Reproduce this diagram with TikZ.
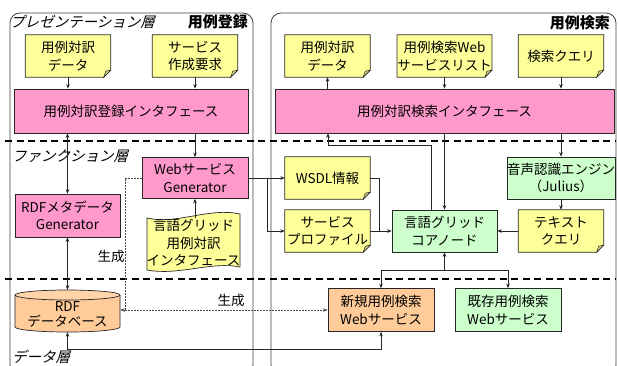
\documentclass[tikz,border=0pt]{standalone}
\usepackage{fontspec}
\setmainfont{Noto Sans CJK JP}
\newfontfamily\slantfont[FakeSlant=0.25]{Noto Sans CJK JP}
\usetikzlibrary{arrows.meta,backgrounds,calc}
\definecolor{pinkc}{HTML}{FF99CC}
\definecolor{yelc}{HTML}{FFFF99}
\definecolor{grnc}{HTML}{CCFFCC}
\definecolor{orgc}{HTML}{FFCC99}
\definecolor{foldc}{HTML}{CCCC7A}
\definecolor{linec}{HTML}{262626}
\newcommand\notebox[1]{%
  \filldraw[fill=yelc,draw=linec,line width=0.7pt] (#1.north west) -- (#1.north east) -- ([yshift=7pt]#1.south east) -- ([xshift=-7pt]#1.south east) -- (#1.south west) -- cycle;
  \filldraw[fill=foldc,draw=linec,line width=0.5pt] ([xshift=-7pt]#1.south east) -- ([yshift=7pt]#1.south east) -- ([xshift=-5pt,yshift=6pt]#1.south east) -- cycle;}
\begin{document}
\begin{tikzpicture}[x=1pt,y=-1pt,
  >={Stealth[length=4.5pt,width=3.6pt]},
  txt/.style={font=\fontsize{13.5}{17.5}\selectfont, align=center, inner sep=0pt},
  bx/.style={txt, rectangle, draw=linec, line width=0.7pt},
  pinkb/.style={bx, fill=pinkc},
  grnb/.style={bx, fill=grnc, minimum width=106pt, minimum height=42pt},
  orgb/.style={bx, fill=orgc, minimum width=106pt, minimum height=43pt},
  nt/.style={txt, rectangle, minimum width=85pt, minimum height=42pt},
  ln/.style={draw=linec, line width=0.7pt},
  dotln/.style={draw=black!70, line width=1pt, dash pattern=on 1.5pt off 1.5pt},
  layer/.style={font=\slantfont\fontsize{14.5}{16}\selectfont, inner sep=0pt, anchor=west},
  ttl/.style={font=\bfseries\fontsize{15}{17}\selectfont, inner sep=0pt, anchor=east},
  lbl/.style={font=\fontsize{13.5}{15}\selectfont, inner sep=0pt},
  sep/.style={draw=black, line width=1.6pt, dash pattern=on 7pt off 4.5pt}
]
\path[use as bounding box, clip] (0,0) rectangle (618,365);

% nodes
\node[pinkb, minimum width=234pt, minimum height=44pt] (regif) at (131,111) {用例対訳登録インタフェース};
\node[nt] (ldata) at (68,56) {用例対訳\\データ};
\node[nt] (sreq) at (195,56) {サービス\\作成要求};
\node[nt] (rdata) at (327.5,56) {用例対訳\\データ};
\node[nt] (wslist) at (444.5,56) {用例検索Web\\サービスリスト};
\node[nt] (query) at (561,56) {検索クエリ};
\node[pinkb, minimum width=339pt, minimum height=44pt] (srchif) at (444.5,111) {用例対訳検索インタフェース};
\node[pinkb, minimum width=106pt, minimum height=41pt] (wsgen) at (195,178) {Webサービス\\Generator};
\node[pinkb, minimum width=105pt, minimum height=43pt] (rdfgen) at (67.5,215.5) {RDFメタデータ\\Generator};
\node[txt, minimum width=93pt, minimum height=50pt] (lgif) at (193.5,243) {言語グリッド\\用例対訳\\インタフェース};
\node[nt] (wsdl) at (327.5,178) {WSDL情報};
\node[nt] (prof) at (327.5,231) {サービス\\プロファイル};
\node[grnb, minimum width=105pt] (core) at (444.5,231) {言語グリッド\\コアノード};
\node[grnb, minimum width=108pt] (asr) at (561,178) {音声認識エンジン\\（Julius）};
\node[nt] (tq) at (561,231) {テキスト\\クエリ};
\node[rectangle, minimum width=105pt, minimum height=42pt, inner sep=0pt] (db) at (67.5,311) {};
\node[txt, font=\fontsize{13.5}{15}\selectfont] (dbt) at (67.5,314) {RDF\\データベース};
\node[orgb] (newws) at (381,310) {新規用例検索\\Webサービス};
\node[grnb, minimum height=43pt] (oldws) at (508,310) {既存用例検索\\Webサービス};

% layer / title labels
\node[layer] (lp) at (10,22) {プレゼンテーション層};
\node[layer] (lf) at (12,156) {ファンクション層};
\node[layer] (ld) at (12,357) {データ層};
\node[ttl] (t1) at (248,22) {用例登録};
\node[ttl] (t2) at (610,23) {用例検索};
\node[lbl] (g1) at (111,256) {生成};
\node[lbl] (g2) at (231,300) {生成};

% background shapes
\begin{scope}[on background layer]
  \draw[draw=black!75, line width=0.8pt, rounded corners=10pt, fill=white] (10,13) rectangle (253,375);
  \draw[draw=black!75, line width=0.8pt, rounded corners=10pt, fill=white] (271,13) rectangle (616,375);
  \foreach \n in {ldata,sreq,rdata,wslist,query,wsdl,prof,tq} {\notebox{\n}}
  % wave document
  \filldraw[fill=yelc, draw=linec, line width=0.7pt]
    (147,218) .. controls (176,225) and (210,207) .. (240,214)
    -- (240,267) .. controls (212,261) and (178,276) .. (147,270) -- cycle;
  % cylinder
  \fill[orgc] (15,295) -- (15,327) arc[start angle=180, end angle=0, x radius=52.5, y radius=5] -- (120,295) -- cycle;
  \draw[linec, line width=0.7pt] (15,295) -- (15,327) arc[start angle=180, end angle=0, x radius=52.5, y radius=5] -- (120,295);
  \filldraw[fill=orgc!85!white, draw=linec, line width=0.7pt] (67.5,295) ellipse[x radius=52.5, y radius=5];
  % separators
  \draw[sep] (5,141) -- (616,141);
  \draw[sep] (5,279) -- (616,279);
\end{scope}

% connectors
\draw[ln,->] (ldata.south) -- (ldata.south |- regif.north);
\draw[ln,->] (sreq.south) -- (sreq.south |- regif.north);
\draw[ln,->] (rdata.south |- srchif.north) -- (rdata.south);
\draw[ln,->] (wslist.south) -- (wslist.south |- srchif.north);
\draw[ln,->] (query.south) -- (query.south |- srchif.north);
\draw[ln,<->] (rdfgen.north |- regif.south) -- (rdfgen.north);
\draw[ln,->] (wsgen.north |- regif.south) -- (wsgen.north);
\draw[ln,->] (wsgen.south |- lgif.north) -- (wsgen.south);
\draw[ln,<->] (rdfgen.south) -- (db.north);
\coordinate (b1) at (267,178);
\draw[ln,->] (wsgen.east) -- (wsdl.west);
\draw[ln,->] (b1) |- (prof.west);
\coordinate (b2) at (379,231);
\draw[ln] (wsdl.east) -| (b2);
\draw[ln,->] (prof.east) -- (core.west);
\draw[ln,->] (core.north |- srchif.south) -- (core.north);
\coordinate (k1) at (328,145);
\draw[ln,->] ([xshift=-13.5pt]core.north) |- (k1) -- (k1 |- srchif.south);
\draw[ln,->] (asr.north |- srchif.south) -- (asr.north);
\draw[ln,->] (asr.south) -- (tq.north);
\draw[ln,->] (tq.west) -- (core.east);
\coordinate (j1) at (444.5,270);
\draw[ln,->] (j1) -- (core.south);
\draw[ln,->] (j1) -| (newws.north);
\draw[ln,->] (j1) -| (oldws.north);
\draw[ln,<->] (db.south) |- ($(newws.south)+(0,17)$) -- (newws.south);
\coordinate (dj) at (125,310);
\draw[dotln] (wsgen.west) -| (dj);
\draw[dotln,->] (dj) -- (dj -| db.east);
\draw[dotln,->] (dj) -- (newws.west);
\end{tikzpicture}
\end{document}
